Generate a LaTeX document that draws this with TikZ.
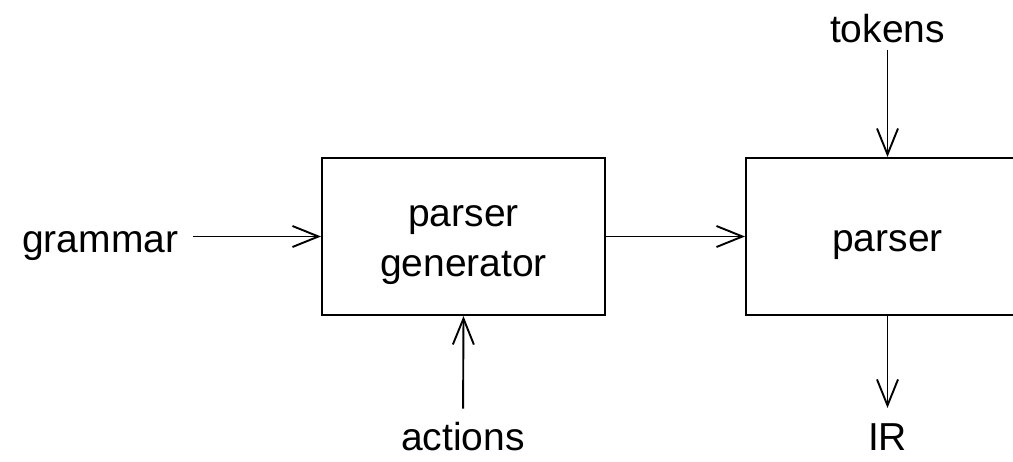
\documentclass[tikz,border=0pt]{standalone}
\usepackage{fontspec}
\setmainfont{Liberation Sans}
\usetikzlibrary{arrows.meta}
\tikzset{
  every picture/.style={x=1pt,y=-1pt},
  blk/.style={draw=black, line width=2pt, minimum width=283pt, minimum height=157pt, inner sep=0pt, font=\fontsize{39}{50}\selectfont},
  lbl/.style={inner sep=0pt, font=\fontsize{39}{50}\selectfont},
  conn/.style={line width=1.9pt, -{Straight Barb[length=26pt,width=21pt,line width=1.9pt]}},
}
\begin{document}
\begin{tikzpicture}
\useasboundingbox (0,0) rectangle (1013,461);
\node[blk, text height=30pt, text depth=51pt] (pg) at (463.5,236.5) {\begin{tabular}[t]{@{}c@{}}parser\\generator\end{tabular}};
\node[blk, text height=39pt, text depth=10pt] (p) at (887.5,236.5) {parser};
\node[lbl, anchor=base west] (gram) at (22,252) {grammar};
\node[lbl, anchor=base] (act) at (463,450) {actions};
\node[lbl, anchor=base] (tok) at (887.5,42) {tokens};
\node[lbl, anchor=base] (ir) at (887.5,450) {IR};
\draw[conn, shorten <=15pt] (gram.east |- pg.west) -- (pg.west);
\draw[conn] (pg.east) -- (p.west);
\draw[conn, shorten <=13pt] (act.north) -- (pg.south);
\draw[conn, shorten <=7pt] (tok.south) -- (p.north);
\draw[conn, shorten >=15pt] (p.south) -- (ir.north);
\end{tikzpicture}
\end{document}
